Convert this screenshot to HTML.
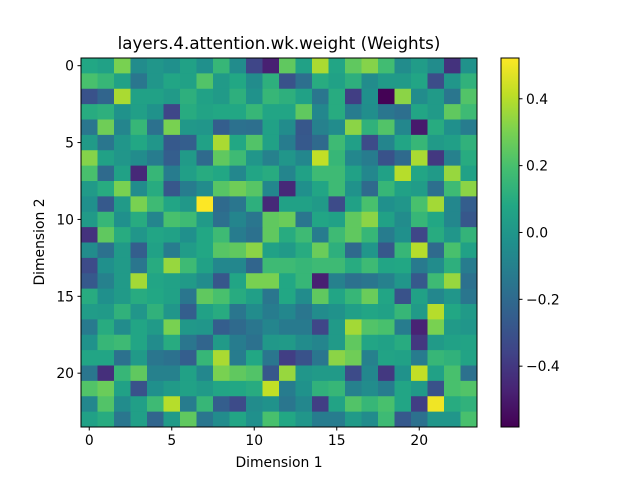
<!DOCTYPE html>
<html><head><meta charset="utf-8"><style>
body{margin:0;background:#fff;}
svg{display:block;font-family:"DejaVu Sans","Liberation Sans",sans-serif;}
</style></head><body>
<svg id="fig" width="640" height="480" viewBox="0 0 640 480" xmlns="http://www.w3.org/2000/svg">
<rect width="640" height="480" fill="#fff"/>
<text x="279" y="49" font-size="16.67" text-anchor="middle">layers.4.attention.wk.weight (Weights)</text>
<g id="cells"></g>
<rect x="81" y="58" width="396" height="369" fill="none" stroke="#000" stroke-width="1"/>
<g id="axes"></g>
<text x="279" y="467" font-size="13.9" text-anchor="middle">Dimension 1</text>
<text transform="translate(44,242) rotate(-90)" font-size="13.9" text-anchor="middle">Dimension 2</text>
<defs><linearGradient id="vg" x1="0" y1="1" x2="0" y2="0"></linearGradient></defs>
<rect x="501" y="58" width="18" height="369" fill="url(#vg)" stroke="#000" stroke-width="1"/>
<g id="cbaxis"></g>
</svg>
<script>
const rowsTop = [
[0.08,0.05,0.3,-0.05,0,-0.03,0.05,-0.03,0.15,-0.05,-0.35,-0.48,0.25,0.05,0.38,0.07,0.25,0.32,0.18,-0.05,0.03,-0.05,-0.42,-0.02],
[0.2,0.15,0.05,-0.15,0,0.07,0.05,0.22,0.02,0.08,-0.05,0.12,-0.3,-0.18,0.1,0.05,0.12,-0.05,0.02,0.02,0.07,-0.32,0,0.13],
[-0.3,-0.22,0.38,0.05,0.05,0.02,0.12,0.05,0.02,0.12,-0.02,0.15,0.12,0.05,-0.15,0.1,-0.38,-0.03,-0.58,0.33,-0.05,0.02,-0.15,0.22],
[0.1,0.12,-0.02,0.04,-0.02,-0.35,0.1,0.06,0.08,0.08,0.15,0.07,0.07,0.25,-0.07,0.1,-0.12,-0.04,-0.15,-0.18,0.07,0.02,0.25,0.17],
[-0.15,0.28,-0.08,0.15,-0.17,0.3,0.01,0,-0.25,-0.17,-0.18,0.05,-0.05,-0.28,-0.1,-0.05,0.33,0.13,0.22,-0.07,-0.5,0.1,-0.03,-0.12],
[0.02,-0.15,0,0.08,0,-0.27,-0.25,0.05,0.38,0.08,0.22,0.05,-0.12,-0.27,-0.2,0.17,0.04,-0.33,-0.08,0.07,0.15,0.02,0.04,0.13],
[0.32,0.05,0,-0.05,-0.12,-0.25,0.02,-0.2,0.25,0.17,0,-0.1,0,-0.07,0.42,0.15,-0.07,-0.12,-0.3,-0.2,0.38,-0.4,-0.1,0.1],
[0.2,-0.2,0.05,-0.45,0.15,-0.12,0.04,0.1,0.08,-0.07,0.07,0.1,-0.08,0.05,0.17,0.17,0.05,-0.07,0.05,0.4,0.07,0.02,0.35,0.05],
[0.02,0.1,0.3,-0.05,0.1,-0.28,-0.12,-0.05,0.23,0.28,0.23,-0.07,-0.45,-0.03,0.07,0.17,-0.02,-0.2,0.15,0.05,0.03,-0.18,0.17,0.33],
[-0.03,-0.27,0.02,0.3,0.17,0.07,0.01,0.52,-0.2,-0.15,0.12,-0.45,0.05,0.05,0.02,-0.33,0.05,0.2,-0.03,0,0.2,0.37,-0.07,-0.25],
[0.02,0.15,-0.03,0.1,-0.08,0.2,0.17,0.02,-0.18,-0.08,-0.15,0.25,0.27,-0.15,0.07,0.05,0.25,0.33,0.05,-0.05,0.15,0.08,-0.07,-0.28],
[-0.42,0.25,0.1,0,0.07,0.05,-0.03,0.08,0.17,-0.12,-0.17,0.25,0.1,0.17,-0.12,0.17,0.25,0.15,-0.12,-0.03,-0.35,0.1,0,0.14]];
const rowsBottom = [
[-0.05,-0.17,0.02,-0.25,0.05,-0.12,0.03,0.08,0.23,0.25,0.33,0.05,0.02,0.1,0.27,0.12,-0.2,0,-0.28,0.15,0.4,-0.2,0.2,0.05],
[-0.33,-0.03,0.02,-0.15,0.1,0.35,0.17,0.05,-0.07,-0.07,-0.22,0.17,0.17,0.15,0.17,0.17,0.1,0.17,0.07,0.08,-0.13,-0.05,0.12,-0.12],
[-0.27,-0.1,0.02,0.37,0.07,0.05,0.02,-0.05,-0.28,0.07,0.3,0.3,0.08,0.15,-0.48,-0.1,-0.17,-0.15,-0.1,0,-0.27,0.17,0.35,-0.17],
[0.1,-0.03,0.02,0.1,0.08,0.05,-0.15,0.25,0.2,0.1,0.04,-0.15,0.08,-0.05,0.25,0.07,0.15,0.27,0.07,-0.3,0.05,-0.07,0,-0.15],
[0.03,0.02,0.13,0,0.13,0,-0.25,0.05,0.1,-0.15,-0.05,-0.12,-0.07,-0.15,-0.05,-0.02,0.04,0.07,0.05,0.15,0.02,0.4,0.08,0.02],
[-0.13,0.1,-0.05,0.07,0.02,0.3,0.01,0,-0.25,-0.2,-0.15,-0.08,-0.13,-0.13,-0.35,0.02,0.37,0.22,0.2,-0.12,-0.47,0.3,0.02,0],
[-0.02,0.15,0.17,0.07,-0.05,0.1,-0.15,-0.22,0.02,-0.12,-0.17,0.01,0.02,-0.05,-0.08,0.02,0.25,0.07,0.05,0.1,-0.4,0.02,0.05,0.06],
[0.07,0.07,-0.17,0.02,-0.15,-0.17,-0.25,0.15,0.38,-0.12,0.08,-0.15,-0.38,-0.3,-0.15,0.33,0.28,-0.1,0.06,0.05,-0.12,0.15,0.13,0.06],
[-0.15,-0.43,0.15,0.25,-0.1,-0.1,0.05,-0.07,0.3,0.25,0.22,-0.28,0.35,0,0.02,0.02,-0.33,-0.07,-0.4,-0.02,0.42,0.05,0.2,-0.17],
[0.22,0.27,0.05,-0.3,-0.03,0.02,0.05,0.02,0.07,0.08,0.1,0.42,-0.12,-0.02,0.13,0.15,-0.1,-0.05,-0.12,0.07,0.02,-0.3,0.2,0.22],
[-0.07,0.22,-0.05,0.04,0.17,0.4,-0.12,0.15,-0.25,-0.33,-0.05,-0.02,-0.15,-0.07,-0.38,0.06,0.22,0.15,0.2,0.07,-0.38,0.5,0.1,0.13],
[0.05,0.1,-0.15,0.04,-0.22,0.02,0.25,-0.15,-0.05,0.07,-0.03,0.2,0.08,0,-0.12,-0.12,0.02,-0.05,0.17,-0.27,-0.17,0,0,0.2]];
const xTicks = [0,5,10,15,20];
const yTicks = [0,5,10,15,20];
const cbTicks = [-0.4,-0.2,0.0,0.2,0.4];
const cbLabels = ["\u22120.4","\u22120.2","0.0","0.2","0.4"];
const vmin = -0.582, vmax = 0.522;

const data = rowsTop.concat(rowsBottom);
const NS = "http://www.w3.org/2000/svg";
const X0=81, Y0=58, W=396, H=369;
const nr = data.length, nc = data[0].length;
const cw = W/nc, ch = H/nr;
const xScale = c => X0 + c*cw;
const yScale = r => Y0 + r*ch;
const vir = [[68,1,84],[72,35,116],[64,67,135],[52,94,141],[41,120,142],[32,144,140],[34,167,132],[68,190,112],[121,209,81],[189,222,38],[253,231,37]];
function color(v){
  let t=(v-vmin)/(vmax-vmin); t=Math.max(0,Math.min(1,t));
  const p=t*(vir.length-1), i=Math.min(vir.length-2,Math.floor(p)), f=p-i;
  const c=vir[i].map((a,k)=>Math.round(a+(vir[i+1][k]-a)*f));
  return `rgb(${c[0]},${c[1]},${c[2]})`;
}
const g=document.getElementById('cells');
for(let r=0;r<nr;r++)for(let c=0;c<nc;c++){
  const el=document.createElementNS(NS,'rect');
  
  
  el.setAttribute('x',xScale(c));el.setAttribute('y',yScale(r));
  el.setAttribute('width',cw+0.4);el.setAttribute('height',ch+0.4);
  el.setAttribute('fill',color(data[r][c]));
  g.appendChild(el);
}
const ax=document.getElementById('axes');
function add(parent,tag,attrs,text){const e=document.createElementNS(NS,tag);for(const k in attrs)e.setAttribute(k,attrs[k]);if(text!==undefined)e.textContent=text;parent.appendChild(e);return e;}
xTicks.forEach(t=>{
  const x=xScale(t+0.5);
  const tk=add(ax,'line',{x1:x,x2:x,y1:427,y2:430.5,stroke:'#000'});
  
  
  const lb=add(ax,'text',{x:x,y:445,'font-size':13.9,'text-anchor':'middle'},String(t));
  
  
});
yTicks.forEach(t=>{
  const y=yScale(t+0.5);
  const tk=add(ax,'line',{x1:77.5,x2:81,y1:y,y2:y,stroke:'#000'});
  
  
  const lb=add(ax,'text',{x:74,y:y+5,'font-size':13.9,'text-anchor':'end'},String(t));
  
  
});
const grad=document.getElementById('vg');
vir.forEach((c,i)=>add(grad,'stop',{offset:(i/(vir.length-1)),'stop-color':`rgb(${c[0]},${c[1]},${c[2]})`}));
const cb=document.getElementById('cbaxis');
const cbScale=v=>58+369*(vmax-v)/(vmax-vmin);
cbTicks.forEach((t,i)=>{
  const y=cbScale(t);
  const tk=add(cb,'line',{x1:519,x2:522.5,y1:y,y2:y,stroke:'#000'});
  
  
  const lb=add(cb,'text',{x:526,y:y+5,'font-size':13.9},cbLabels[i]);
  
  
});
</script>
</body></html>
